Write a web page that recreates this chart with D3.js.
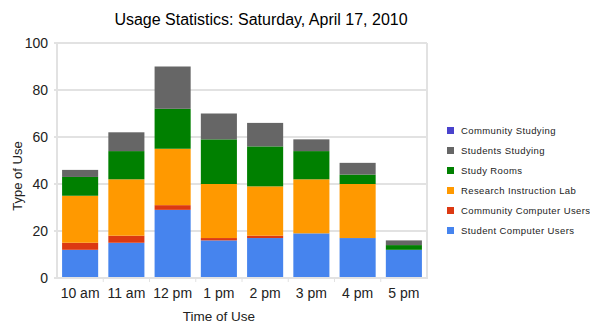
<!DOCTYPE html>
<html>
<head>
<meta charset="utf-8">
<script src="https://cdn.jsdelivr.net/npm/d3@7"></script>
<style>
  html, body { margin: 0; padding: 0; background: #fff; }
  svg { display: block; font-family: "Liberation Sans", Arial, sans-serif; }
</style>
</head>
<body>
<svg id="chart" width="590" height="332"></svg>
<script>
// Hourly usage counts, one array per type of use
const hours = ["10 am", "11 am", "12 pm", "1 pm", "2 pm", "3 pm", "4 pm", "5 pm"];
const studentComputerUsers   = [12, 15, 29, 16, 17, 19, 17, 12];
const communityComputerUsers = [3, 3, 2, 1, 1, 0, 0, 0];
const researchInstructionLab = [20, 24, 24, 23, 21, 23, 23, 0];
const studyRooms             = [8, 12, 17, 19, 17, 12, 4, 2];
const studentsStudying       = [3, 8, 18, 11, 10, 5, 5, 2];
const communityStudying      = [0, 0, 0, 0, 0, 0, 0, 0];
const yTicks = [0, 20, 40, 60, 80, 100];

// Stack order: bottom to top
const series = [
  { name: "Student Computer Users",   values: studentComputerUsers,   color: "#4684ee" },
  { name: "Community Computer Users", values: communityComputerUsers, color: "#dc3912" },
  { name: "Research Instruction Lab", values: researchInstructionLab, color: "#ff9900" },
  { name: "Study Rooms",              values: studyRooms,             color: "#008000" },
  { name: "Students Studying",        values: studentsStudying,       color: "#666666" },
  { name: "Community Studying",       values: communityStudying,      color: "#4942cc" }
];

const svg = d3.select("#chart");
const plot = { left: 57, right: 427, top: 43, bottom: 278 };

const x = d3.scaleBand().domain(hours).range([plot.left, plot.right]).paddingInner(0.22).paddingOuter(0.11);
const xBand = d3.scaleBand().domain(hours).range([plot.left, plot.right]);
const y = d3.scaleLinear().domain([0, 100]).range([plot.bottom, plot.top]);

const rows = hours.map((h, i) => {
  const r = { hour: h };
  series.forEach(s => { r[s.name] = s.values[i]; });
  return r;
});
const stacked = d3.stack().keys(series.map(s => s.name))(rows);

// Gridlines
svg.append("g").selectAll("line").data(yTicks.filter(t => t > 0)).join("line")
  .attr("x1", plot.left - 3).attr("x2", plot.right)
  .attr("y1", d => y(d)).attr("y2", d => y(d))
  .attr("stroke", "#e2e2e2").attr("stroke-width", 2);

// Frame: left, right and bottom edges
svg.append("line").attr("x1", plot.left).attr("x2", plot.left).attr("y1", plot.top).attr("y2", plot.bottom)
  .attr("stroke", "#e2e2e2").attr("stroke-width", 2);
svg.append("line").attr("x1", plot.right).attr("x2", plot.right).attr("y1", plot.top).attr("y2", plot.bottom)
  .attr("stroke", "#e2e2e2").attr("stroke-width", 2);

// Bars
svg.append("g").selectAll("g").data(stacked).join("g")
  .attr("fill", (d, i) => series[i].color)
  .selectAll("rect").data(d => d).join("rect")
  .attr("x", d => x(d.data.hour))
  .attr("width", x.bandwidth())
  .attr("y", d => y(d[1]))
  .attr("height", d => y(d[0]) - y(d[1]));

// Baseline and category ticks
svg.append("line").attr("x1", plot.left - 3).attr("x2", plot.right + 1).attr("y1", plot.bottom).attr("y2", plot.bottom)
  .attr("stroke", "#e2e2e2").attr("stroke-width", 2);
svg.append("g").selectAll("line").data(hours.slice(1)).join("line")
  .attr("x1", d => xBand(d)).attr("x2", d => xBand(d))
  .attr("y1", plot.bottom).attr("y2", plot.bottom + 4)
  .attr("stroke", "#e2e2e2").attr("stroke-width", 1);

// Y tick labels
svg.append("g").selectAll("text").data(yTicks).join("text")
  .attr("x", plot.left - 9).attr("y", d => y(d) + 5)
  .attr("text-anchor", "end").attr("font-size", 14).attr("fill", "#222")
  .text(d => d);

// X tick labels
svg.append("g").selectAll("text").data(hours).join("text")
  .attr("x", d => xBand(d) + xBand.bandwidth() / 2).attr("y", 298)
  .attr("text-anchor", "middle").attr("font-size", 14).attr("fill", "#222")
  .text(d => d);

// Titles
svg.append("text").attr("x", 261).attr("y", 25).attr("text-anchor", "middle")
  .attr("font-size", 16).attr("fill", "#000").text("Usage Statistics: Saturday, April 17, 2010");
svg.append("text").attr("x", 219).attr("y", 321).attr("text-anchor", "middle")
  .attr("font-size", 13.5).attr("fill", "#222").text("Time of Use");
svg.append("text").attr("transform", "translate(22,176) rotate(-90)").attr("text-anchor", "middle")
  .attr("font-size", 13).attr("fill", "#222").text("Type of Use");

// Legend, top entry is the top of the stack
const legendItems = series.slice().reverse();
const legend = svg.append("g").selectAll("g").data(legendItems).join("g")
  .attr("transform", (d, i) => `translate(447, ${127 + i * 20})`);
legend.append("rect").attr("width", 7).attr("height", 7).attr("fill", d => d.color);
legend.append("text").attr("x", 14).attr("y", 7).attr("font-size", 9.5)
  .attr("letter-spacing", 0.4).attr("fill", "#222").text(d => d.name);
</script>
</body>
</html>
